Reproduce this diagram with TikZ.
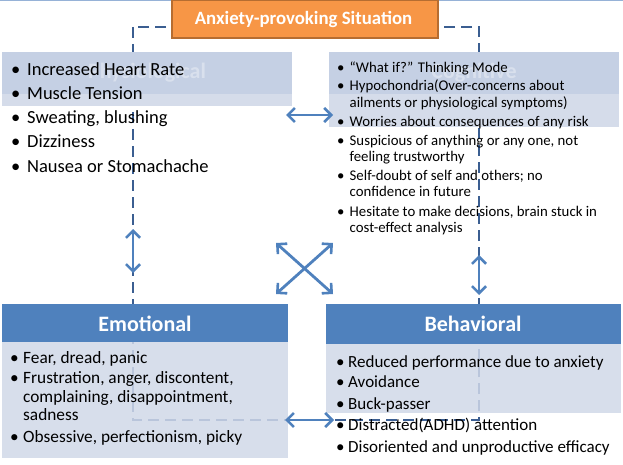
\documentclass[tikz,border=0pt]{standalone}
\usepackage{fontspec}
\setmainfont{Carlito}
\usetikzlibrary{arrows.meta}
\definecolor{hdr}{RGB}{79,129,189}
\definecolor{dashc}{RGB}{59,94,145}
\definecolor{bodyc}{RGB}{208,216,232}
\definecolor{upc}{RGB}{197,208,228}
\definecolor{lowc}{RGB}{213,220,234}
\definecolor{orfill}{RGB}{247,150,70}
\definecolor{ordraw}{RGB}{182,109,49}
\definecolor{topline}{RGB}{150,178,215}
\tikzset{
  dashline/.style={draw=dashc, line width=2pt, dash pattern=on 11pt off 6pt},
  dblarrow/.style={draw=hdr, line width=2.8pt,
    {Straight Barb[length=7pt,width=14pt,line width=2.6pt]}-{Straight Barb[length=7pt,width=14pt,line width=2.6pt]}},
  ptxt/.style={anchor=base west, inner sep=0pt, font=\fontsize{18.5}{20}\selectfont},
  ctxt/.style={anchor=base west, inner sep=0pt, font=\fontsize{14.8}{16}\selectfont},
  etxt/.style={anchor=base west, inner sep=0pt, font=\fontsize{17.3}{18}\selectfont},
  btxt/.style={anchor=base west, inner sep=0pt, font=\fontsize{17}{19}\selectfont},
  ttl/.style={anchor=base, inner sep=0pt, text=white, font=\bfseries\fontsize{22}{24}\selectfont},
  faint/.style={anchor=center, inner sep=0pt, text=white, text opacity=0.35, font=\bfseries\fontsize{22}{24}\selectfont},
}
\begin{document}
\begin{tikzpicture}[x=1pt,y=-1pt]
\useasboundingbox (0,0) rectangle (623,465);
% top border
\draw[topline, line width=1.5pt] (0,0.75) -- (623,0.75);
% dashed loop
\coordinate (d1) at (133,27);
\coordinate (d2) at (133,420);
\coordinate (d3) at (479,420);
\coordinate (d4) at (479,27);
\draw[dashline] (d1) -- (d2) -- (d3) -- (d4) -- cycle;
% orange box
\node[draw=ordraw, line width=2pt, fill=orfill, minimum width=266pt, minimum height=38pt, inner sep=0pt, anchor=north west] (sit) at (171,-1) {};
\node[anchor=base, inner sep=0pt, text=white, font=\bfseries\fontsize{18.8}{20}\selectfont] (sitt) at (303.5,25) {Anxiety-provoking Situation};
% physiological
\fill[upc] (2,52) rectangle (292,94);
\fill[lowc] (2,94) rectangle (292,106);
\node[faint] (phys) at (147,73) {Physiological};
% cognitive
\fill[upc] (329,52) rectangle (619,94);
\fill[lowc] (329,94) rectangle (619,127);
\node[faint] (cogn) at (474,73) {Cognitive};
% emotional
\fill[hdr] (2,304) rectangle (288,342);
\fill[bodyc, fill opacity=0.85] (2,342) rectangle (288,458);
\node[ttl] (emo) at (145,331) {Emotional};
% behavioral
\fill[hdr] (326,304) rectangle (621,344);
\fill[bodyc, fill opacity=0.85] (326,344) rectangle (621,413);
\node[ttl] (beh) at (473,331) {Behavioral};
% physiological text
\node[ptxt] (p1) at (11,76) {\makebox[16pt][l]{•}Increased Heart Rate};
\node[ptxt] (p2) at (11,100) {\makebox[16pt][l]{•}Muscle Tension};
\node[ptxt] (p3) at (11,124) {\makebox[16pt][l]{•}Sweating, blushing};
\node[ptxt] (p4) at (11,148) {\makebox[16pt][l]{•}Dizziness};
\node[ptxt] (p5) at (11,172) {\makebox[16pt][l]{•}Nausea or Stomachache};
% cognitive text
\node[ctxt] (c1) at (337,72.7) {\makebox[12.5pt][l]{•}“What if?” Thinking Mode};
\node[ctxt] (c2) at (337,90.7) {\makebox[12.5pt][l]{•}Hypochondria(Over-concerns about};
\node[ctxt] (c2b) at (349.5,108) {ailments or physiological symptoms)};
\node[ctxt] (c3) at (337,126.7) {\makebox[12.5pt][l]{•}Worries about consequences of any risk};
\node[ctxt] (c4) at (337,145.7) {\makebox[12.5pt][l]{•}Suspicious of anything or any one, not};
\node[ctxt] (c4b) at (349.5,161.7) {feeling trustworthy};
\node[ctxt] (c5) at (337,180) {\makebox[12.5pt][l]{•}Self-doubt of self and others; no};
\node[ctxt] (c5b) at (349.5,196.7) {confidence in future};
\node[ctxt] (c6) at (337,216.7) {\makebox[12.5pt][l]{•}Hesitate to make decisions, brain stuck in};
\node[ctxt] (c6b) at (349.5,232.3) {cost-effect analysis};
% emotional text
\node[etxt] (e1) at (10,363.3) {\makebox[13pt][l]{•}Fear, dread, panic};
\node[etxt] (e2) at (10,383.3) {\makebox[13pt][l]{•}Frustration, anger, discontent,};
\node[etxt] (e2b) at (23,402.3) {complaining, disappointment,};
\node[etxt] (e2c) at (23,420) {sadness};
\node[etxt] (e3) at (10,442.7) {\makebox[13pt][l]{•}Obsessive, perfectionism, picky};
% behavioral text
\node[btxt] (b1) at (336,367.3) {\makebox[12pt][l]{•}Reduced performance due to anxiety};
\node[btxt] (b2) at (336,387.7) {\makebox[12pt][l]{•}Avoidance};
\node[btxt] (b3) at (336,409) {\makebox[12pt][l]{•}Buck-passer};
\node[btxt] (b4) at (336,430.7) {\makebox[12pt][l]{•}Distracted(ADHD) attention};
\node[btxt] (b5) at (336,452.3) {\makebox[12pt][l]{•}Disoriented and unproductive efficacy};
% arrows
\coordinate (a1) at (133,229); \coordinate (a2) at (133,273);
\coordinate (a3) at (479,255); \coordinate (a4) at (479,295);
\coordinate (a5) at (286,115); \coordinate (a6) at (333,115);
\coordinate (a7) at (285,420); \coordinate (a8) at (334,420);
\coordinate (x1) at (276,243); \coordinate (x2) at (333,294);
\coordinate (x3) at (333,243); \coordinate (x4) at (276,294);
\draw[dblarrow] (a1) -- (a2);
\draw[dblarrow] (a3) -- (a4);
\draw[dblarrow] (a5) -- (a6);
\draw[dblarrow] (a7) -- (a8);
\draw[dblarrow] (x1) -- (x2);
\draw[dblarrow] (x3) -- (x4);
\end{tikzpicture}
\end{document}
